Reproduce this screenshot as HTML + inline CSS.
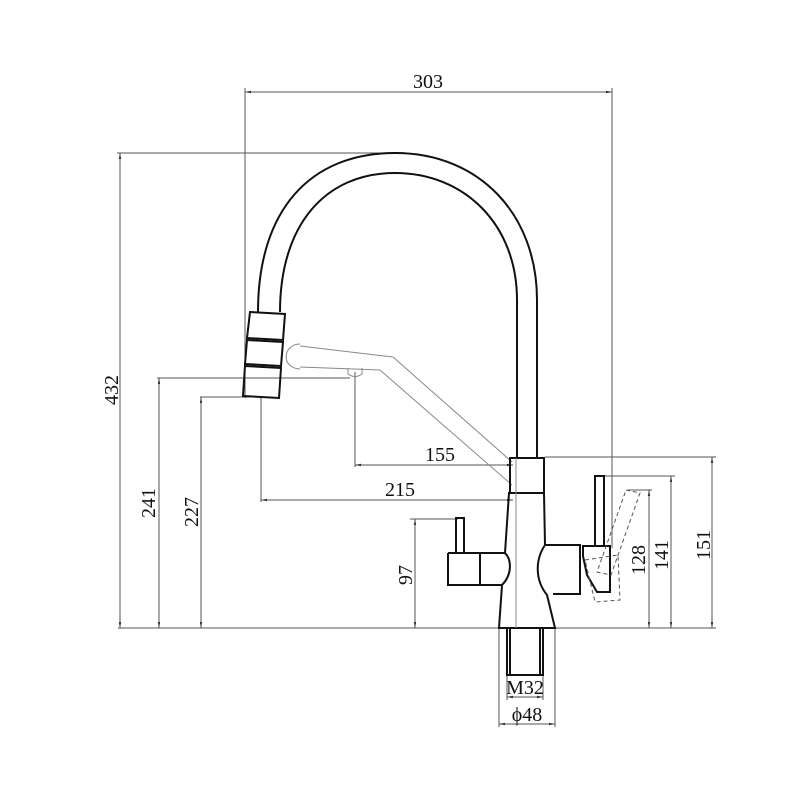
<!DOCTYPE html>
<html><head><style>body{margin:0;background:#fff}svg{display:block}text{font-family:"Liberation Serif",serif;font-size:20px;fill:#111}</style></head>
<body>
<svg width="800" height="800" viewBox="0 0 800 800" xmlns="http://www.w3.org/2000/svg">
<defs><marker id="a" viewBox="0 0 10 10" refX="10" refY="5" markerWidth="6" markerHeight="6" orient="auto-start-reverse"><path d="M0,3 L10,5 L0,7z" fill="#333"/></marker></defs>
<g stroke="#555" stroke-width="1" fill="none">
<line x1="245" y1="88" x2="245" y2="398"/><line x1="612" y1="88" x2="612" y2="548"/>
<line x1="117" y1="153" x2="385" y2="153"/>
<line x1="157" y1="378" x2="350" y2="378"/>
<line x1="200" y1="397" x2="250" y2="397"/>
<line x1="118" y1="628" x2="716" y2="628"/>
<line x1="355" y1="372" x2="355" y2="467"/>
<line x1="261" y1="398" x2="261" y2="502"/>
<line x1="410" y1="519" x2="458" y2="519"/>
<line x1="600" y1="476" x2="675" y2="476"/>
<line x1="628" y1="490" x2="652" y2="490"/>
<line x1="545" y1="457" x2="716" y2="457"/>
<line x1="499" y1="628" x2="499" y2="727"/><line x1="555" y1="628" x2="555" y2="727"/>
<line x1="507" y1="675" x2="507" y2="700"/><line x1="543" y1="675" x2="543" y2="700"/>
<line x1="245" y1="92" x2="612" y2="92" marker-start="url(#a)" marker-end="url(#a)"/>
<line x1="120" y1="153" x2="120" y2="628" marker-start="url(#a)" marker-end="url(#a)"/>
<line x1="159" y1="378" x2="159" y2="628" marker-start="url(#a)" marker-end="url(#a)"/>
<line x1="201" y1="397" x2="201" y2="628" marker-start="url(#a)" marker-end="url(#a)"/>
<line x1="355" y1="465" x2="513" y2="465" marker-start="url(#a)" marker-end="url(#a)"/>
<line x1="261" y1="500" x2="513" y2="500" marker-start="url(#a)" marker-end="url(#a)"/>
<line x1="415" y1="519" x2="415" y2="628" marker-start="url(#a)" marker-end="url(#a)"/>
<line x1="649" y1="490" x2="649" y2="628" marker-start="url(#a)" marker-end="url(#a)"/>
<line x1="671" y1="476" x2="671" y2="628" marker-start="url(#a)" marker-end="url(#a)"/>
<line x1="712" y1="457" x2="712" y2="628" marker-start="url(#a)" marker-end="url(#a)"/>
<line x1="507" y1="697" x2="543" y2="697" marker-start="url(#a)" marker-end="url(#a)"/>
<line x1="499" y1="724" x2="555" y2="724" marker-start="url(#a)" marker-end="url(#a)"/>
</g>
<g stroke="#888" stroke-width="1" fill="none">
<path d="M300,346 L393,357 L512,462"/>
<path d="M300,367 L380,370 L512,485"/>
<path d="M300,344 C283,344 280,368 300,369"/>
<path d="M348,368 L348,374 Q355,379 362,374 L362,368"/>
</g>
<g stroke="#111" stroke-width="2" fill="none">
<path d="M258,312 C258,210 310,153 395,153 C480,153 537,215 537,300 L537,458"/>
<path d="M280,312 C280,225 325,173 395,173 C465,173 517,225 517,300 L517,458"/>
<path d="M250,312 L285,314 L283,340 L247,338 Z"/>
<path d="M247,340 L283,342 L281,366 L245,364 Z"/>
<path d="M245,366 L281,368 L279,398 L243,396 Z"/>
<path d="M510,458 L544,458 L544,493 L510,493 Z"/>
<path d="M509,493 L544,493 L545,545 C535,560 535,580 547,595 L555,628 L499,628 L502,585 C512,575 512,560 505,553 Z"/>
<path d="M507,628 L507,675 L543,675 L543,628"/>
<line x1="510" y1="628" x2="510" y2="675"/><line x1="540" y1="628" x2="540" y2="675"/>
<path d="M448,553 L505,553 M448,553 L448,585 L502,585"/>
<line x1="480" y1="553" x2="480" y2="585"/>
<rect x="456" y="518" width="8" height="35"/>
<path d="M546,545 L580,545 L580,594 L553,594"/>
<path d="M583,546 L610,546 L610,592 L597,592 L587,575 L583,556 Z"/>
<rect x="595" y="476" width="9" height="70"/>
</g>
<g stroke="#555" stroke-width="1" fill="none" stroke-dasharray="4,3">
<path d="M626,490 L640,493 L611,575 L597,572 Z"/>
<path d="M585,560 L618,555 L620,600 L595,602 Z"/>
</g>
<line x1="516" y1="458" x2="516" y2="628" stroke="#888" stroke-width="1"/>
<text x="428" y="88" text-anchor="middle">303</text>
<text transform="translate(118,390) rotate(-90)" text-anchor="middle">432</text>
<text transform="translate(155,503) rotate(-90)" text-anchor="middle">241</text>
<text transform="translate(198,512) rotate(-90)" text-anchor="middle">227</text>
<text transform="translate(412,575) rotate(-90)" text-anchor="middle">97</text>
<text transform="translate(645,560) rotate(-90)" text-anchor="middle">128</text>
<text transform="translate(668,555) rotate(-90)" text-anchor="middle">141</text>
<text transform="translate(710,545) rotate(-90)" text-anchor="middle">151</text>
<text x="440" y="461" text-anchor="middle">155</text>
<text x="400" y="496" text-anchor="middle">215</text>
<text x="525" y="694" text-anchor="middle">M32</text>
<text x="527" y="721" text-anchor="middle">ϕ48</text>
</svg>
</body></html>
